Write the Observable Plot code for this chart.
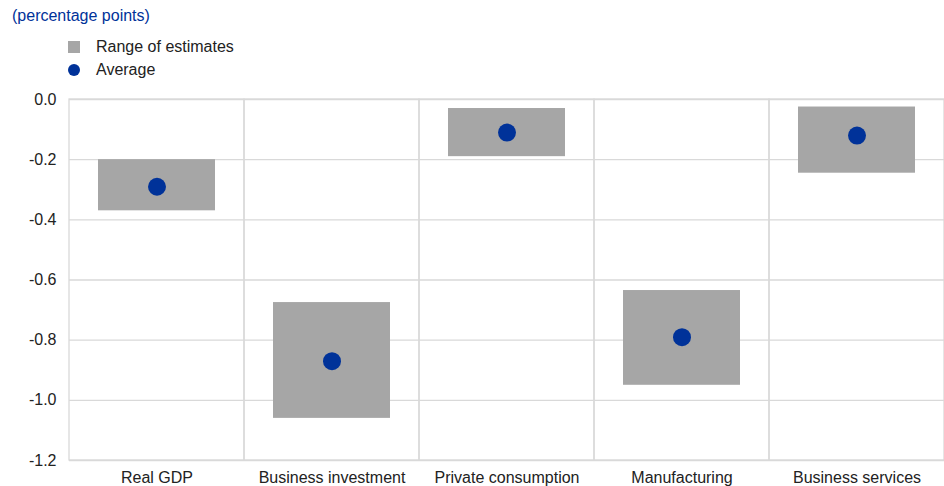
<!DOCTYPE html>
<html><head>
<meta charset="utf-8">
<script src="https://cdn.jsdelivr.net/npm/d3@7"></script>
<script src="https://cdn.jsdelivr.net/npm/@observablehq/plot@0.6"></script>
<style>
body{margin:0;background:#fff;font-family:"Liberation Sans",Arial,sans-serif;}
#wrap{position:relative;width:944px;height:486px;overflow:hidden;}
#title{position:absolute;left:12px;top:7px;font-size:16px;line-height:18px;color:#003299;}
.leg{position:absolute;left:68px;font-size:16px;line-height:18px;color:#222;}
.leg span{position:absolute;left:0;top:3px;width:12px;height:12px;}
.leg .txt{position:static;margin-left:28px;}
#chart{position:absolute;left:0;top:88px;}
</style></head><body>
<div id="wrap">
<div id="title">(percentage points)</div>
<div class="leg" style="top:38px"><span style="background:#a6a6a6"></span><div class="txt">Range of estimates</div></div>
<div class="leg" style="top:61px"><span style="background:#003299;border-radius:50%"></span><div class="txt">Average</div></div>
<div id="chart"></div>
</div>
<script>
const categories = ["Real GDP", "Business investment", "Private consumption", "Manufacturing", "Business services"];
const rangeLow  = [-0.37, -1.06, -0.19, -0.95, -0.245];
const rangeHigh = [-0.20, -0.675, -0.03, -0.635, -0.025];
const average   = [-0.29, -0.87, -0.11, -0.79, -0.12];
const yTicks = [0, -0.2, -0.4, -0.6, -0.8, -1.0, -1.2];
const yDomain = [-1.2, 0];

const data = categories.map((c, i) => ({cat: c, low: rangeLow[i], high: rangeHigh[i], avg: average[i]}));

const chart = Plot.plot({
  width: 944,
  height: 398,
  marginTop: 11,
  marginBottom: 26,
  marginLeft: 69,
  marginRight: 0,
  style: {fontFamily: '"Liberation Sans", Arial, sans-serif', fontSize: "16px", color: "#222", background: "#fff"},
  x: {domain: categories, padding: 0, label: null},
  y: {domain: yDomain, label: null},
  marks: [
    Plot.gridY(yTicks, {stroke: "#d9d9d9", strokeOpacity: 1, strokeWidth: 1.3}),
    Plot.barY(categories, {x: d => d, y1: yDomain[0], y2: yDomain[1], fill: "none", stroke: "#d9d9d9", strokeWidth: 1.3}),
    Plot.barY(data, {x: "cat", y1: "low", y2: "high", fill: "#a6a6a6", insetLeft: 29, insetRight: 29}),
    Plot.dot(data, {x: "cat", y: "avg", r: 9, fill: "#003299", stroke: "none"}),
    Plot.axisY(yTicks, {tickSize: 0, tickPadding: 13, tickFormat: d => d.toFixed(1), fontSize: 16}),
    Plot.axisX({tickSize: 0, tickPadding: 11, fontSize: 16})
  ]
});
document.getElementById("chart").appendChild(chart);
</script>
</body></html>
